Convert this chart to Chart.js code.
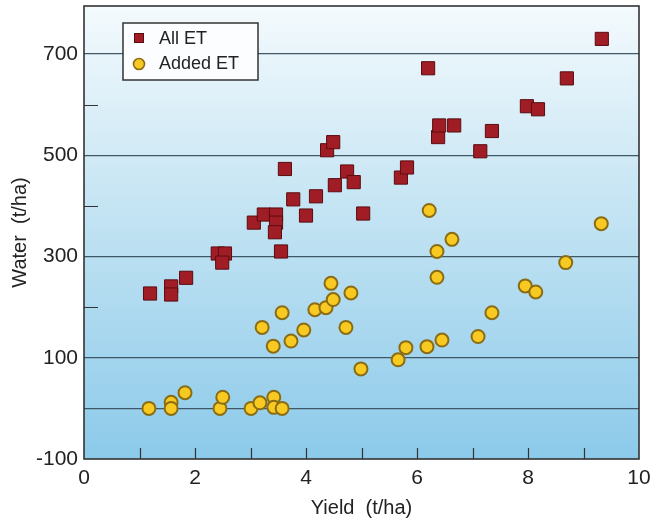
<!DOCTYPE html>
<html>
<head>
<meta charset="utf-8">
<script src="https://cdn.jsdelivr.net/npm/chart.js@4"></script>
<style>
  html, body { margin: 0; padding: 0; background: #ffffff; }
  #wrap { width: 652px; height: 521px; }
</style>
</head>
<body>
<div id="wrap"><canvas id="chart" width="652" height="521"></canvas></div>
<script>
// data
var allEtYield = [1.19, 1.57, 1.57, 1.84, 2.41, 2.54, 2.49, 3.06, 3.24, 3.46, 3.46, 3.44, 3.55, 3.62, 3.77, 4.0, 4.18, 4.38, 4.49, 4.52, 4.74, 4.86, 5.03, 5.71, 5.82, 6.2, 6.38, 6.40, 6.67, 7.14, 7.35, 7.98, 8.18, 8.70, 9.33];
var allEtWater = [227, 241, 225, 258, 306, 306, 288, 367, 383, 383, 367, 348, 310, 473, 413, 381, 419, 510, 526, 441, 468, 447, 385, 456, 476, 672, 536, 559, 559, 508, 548, 597, 591, 652, 730];

var addedYield = [1.17, 1.57, 1.57, 1.82, 2.45, 2.5, 3.01, 3.17, 3.42, 3.42, 3.57, 3.21, 3.41, 3.57, 3.73, 3.96, 4.16, 4.36, 4.49, 4.45, 4.72, 4.81, 4.99, 5.66, 5.80, 6.18, 6.22, 6.36, 6.36, 6.45, 6.63, 7.1, 7.35, 7.95, 8.14, 8.68, 9.32];
var addedWater = [0, 12, 0, 31, 0, 22, 0, 11, 22, 2, 0, 160, 123, 189, 133, 155, 195, 199, 215, 247, 160, 228, 78, 96, 120, 122, 391, 310, 259, 135, 334, 142, 189, 242, 230, 288, 365];

var seriesNames = ['All ET', 'Added ET'];
var yTickValues = [-100, 0, 100, 200, 300, 400, 500, 600, 700];
var yLabelValues = [-100, 100, 300, 500, 700];
var yLineValues = [0, 100, 300, 500, 700];
var yMinorValues = [200, 400, 600];
var xLabelValues = [0, 2, 4, 6, 8, 10];

function toPoints(xs, ys) {
  return xs.map(function(x, i) { return {x: x, y: ys[i]}; });
}

var FONT = "'Liberation Sans', Arial, sans-serif";
var INK = '#222222';
var FRAME = '#333333';

// plot background gradient + frame + inner ticks + legend box
var decor = {
  id: 'decor',
  beforeDraw: function(chart) {
    var ctx = chart.ctx, a = chart.chartArea;
    ctx.save();
    var g = ctx.createLinearGradient(0, a.top, 0, a.bottom);
    g.addColorStop(0, '#f4fafd');
    g.addColorStop(0.45, '#c4e4f3');
    g.addColorStop(1, '#8ccaea');
    ctx.fillStyle = g;
    ctx.fillRect(a.left, a.top, a.right - a.left, a.bottom - a.top);
    ctx.restore();
  },
  afterDatasetsDraw: function(chart) {
    var ctx = chart.ctx, a = chart.chartArea;
    var xs = chart.scales.x, ys = chart.scales.y;
    ctx.save();
    ctx.strokeStyle = FRAME;
    ctx.lineWidth = 1.2;
    ctx.beginPath();
    yMinorValues.forEach(function(v) {
      var py = Math.round(ys.getPixelForValue(v)) + 0.5;
      ctx.moveTo(a.left, py);
      ctx.lineTo(a.left + 14, py);
    });
    for (var v = 1; v < 10; v++) {
      var px = Math.round(xs.getPixelForValue(v)) + 0.5;
      ctx.moveTo(px, a.bottom);
      ctx.lineTo(px, a.bottom - 11);
    }
    ctx.stroke();
    ctx.lineWidth = 1.6;
    ctx.strokeRect(a.left, a.top, a.right - a.left, a.bottom - a.top);
    ctx.restore();
  },
  afterDraw: function(chart) {
    var ctx = chart.ctx;
    var d0 = chart.data.datasets[0], d1 = chart.data.datasets[1];
    ctx.save();
    ctx.fillStyle = '#fbfdfe';
    ctx.fillRect(123, 23, 135, 57);
    ctx.strokeStyle = FRAME;
    ctx.lineWidth = 1.5;
    ctx.strokeRect(123, 23, 135, 57);
    // square marker
    ctx.fillStyle = d0.backgroundColor;
    ctx.strokeStyle = d0.borderColor;
    ctx.lineWidth = 1;
    ctx.fillRect(134.5, 33.5, 9, 9);
    ctx.strokeRect(134.5, 33.5, 9, 9);
    // circle marker
    ctx.beginPath();
    ctx.arc(139, 64, 5.5, 0, Math.PI * 2);
    ctx.fillStyle = d1.backgroundColor;
    ctx.fill();
    ctx.lineWidth = 1.6;
    ctx.strokeStyle = d1.borderColor;
    ctx.stroke();
    ctx.fillStyle = INK;
    ctx.font = '18px ' + FONT;
    ctx.textBaseline = 'middle';
    ctx.textAlign = 'left';
    ctx.fillText(seriesNames[0], 159, 39);
    ctx.fillText(seriesNames[1], 159, 64);
    ctx.restore();
  }
};

new Chart(document.getElementById('chart'), {
  type: 'scatter',
  data: {
    datasets: [
      {
        label: seriesNames[0],
        data: toPoints(allEtYield, allEtWater),
        pointStyle: 'rect',
        pointRadius: 9.3,
        backgroundColor: '#a11d25',
        borderColor: '#5a0c10',
        borderWidth: 1
      },
      {
        label: seriesNames[1],
        data: toPoints(addedYield, addedWater),
        pointStyle: 'circle',
        pointRadius: 6.5,
        backgroundColor: '#f8c920',
        borderColor: '#8a6c14',
        borderWidth: 2
      }
    ]
  },
  plugins: [decor],
  options: {
    responsive: false,
    animation: false,
    layout: { autoPadding: false, padding: { left: 0, right: 13, top: 6, bottom: 0 } },
    plugins: {
      legend: { display: false },
      tooltip: { enabled: false }
    },
    scales: {
      x: {
        type: 'linear',
        min: 0,
        max: 10,
        afterBuildTicks: function(axis) {
          axis.ticks = xLabelValues.map(function(v) { return {value: v}; });
        },
        afterFit: function(axis) {
          axis.height = 62;
          axis.paddingLeft = 0;
          axis.paddingRight = 0;
        },
        grid: { display: false, drawTicks: false },
        border: { display: false },
        ticks: {
          padding: 7,
          color: INK,
          maxRotation: 0,
          font: { family: FONT, size: 21 }
        },
        title: {
          display: true,
          text: 'Yield  (t/ha)',
          color: INK,
          font: { family: FONT, size: 20 },
          padding: { top: 0, bottom: 1 }
        }
      },
      y: {
        type: 'linear',
        min: -100,
        max: 795,
        afterBuildTicks: function(axis) {
          axis.ticks = yTickValues.map(function(v) { return {value: v}; });
        },
        afterFit: function(axis) {
          axis.width = 84;
          axis.paddingTop = 0;
          axis.paddingBottom = 0;
        },
        grid: {
          drawTicks: false,
          lineWidth: 1.2,
          color: function(c) {
            return (c.tick && yLineValues.indexOf(c.tick.value) >= 0) ? '#3f5868' : 'rgba(0,0,0,0)';
          }
        },
        border: { display: false },
        ticks: {
          padding: 6,
          color: INK,
          autoSkip: false,
          font: { family: FONT, size: 21 },
          callback: function(v) { return yLabelValues.indexOf(v) >= 0 ? String(v) : ''; }
        },
        title: {
          display: true,
          text: 'Water  (t/ha)',
          color: INK,
          font: { family: FONT, size: 20 },
          padding: { top: 8, bottom: 0 }
        }
      }
    }
  }
});
</script>
</body>
</html>
